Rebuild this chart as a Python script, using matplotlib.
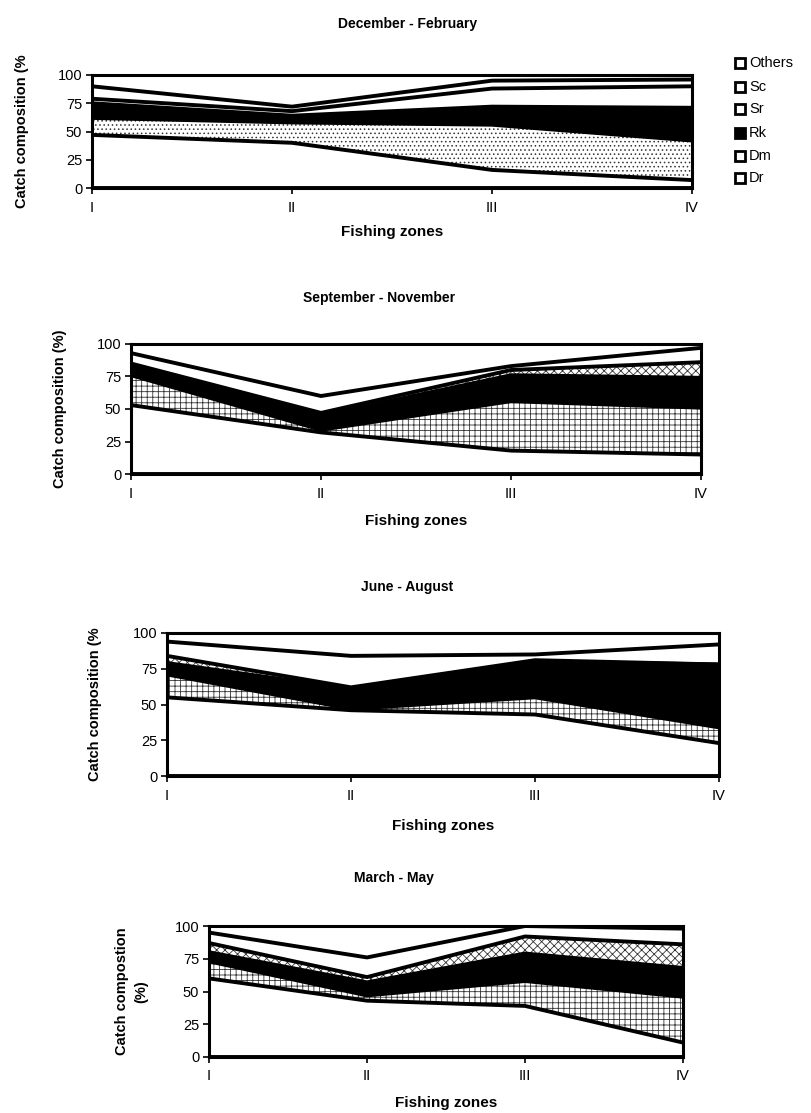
import numpy as np
import matplotlib
matplotlib.use("Agg")
import matplotlib.pyplot as plt
from matplotlib.patches import Rectangle

plt.rcParams['font.family'] = ['Liberation Sans', 'DejaVu Sans']
plt.rcParams['hatch.linewidth'] = 0.6
plt.rcParams['hatch.color'] = '0.2'

### DATA (catch composition, %)
zones = ['I', 'II', 'III', 'IV']
species = ['Dr', 'Dm', 'Rk', 'Sr', 'Sc', 'Others']

# rows: Dr, Dm, Rk, Sr, Sc, Others
dec_feb = [[47, 40, 16, 7],
           [15, 18, 40, 35],
           [13, 6, 16, 29],
           [4, 4, 16, 19],
           [11, 4, 7, 6],
           [10, 28, 5, 4]]
sep_nov = [[53, 32, 18, 15],
           [23, 2, 38, 36],
           [8, 11, 20, 23],
           [1, 2, 4, 12],
           [8, 13, 3, 11],
           [7, 40, 17, 3]]
jun_aug = [[55, 46, 43, 23],
           [16, 1, 12, 11],
           [8, 14, 25, 44],
           [5, 1, 1, 0],
           [10, 22, 4, 14],
           [6, 16, 15, 8]]
mar_may = [[60, 43, 39, 11],
           [13, 4, 19, 35],
           [7, 10, 21, 22],
           [7, 4, 13, 18],
           [8, 15, 8, 12],
           [5, 24, 0, 2]]

titles = ['December - February', 'September - November', 'June - August', 'March - May']
ylabels = ['Catch composition (%', 'Catch composition (%)', 'Catch composition (%', 'Catch compostion\n(%)']
### END DATA

W, H = 812, 1113

def fbox(l, t, r, b):
    return [l / W, 1 - b / H, (r - l) / W, (b - t) / H]

# pixel layout of each panel: axes box, title pos, ylabel x, xlabel y
layout = [
    dict(ax=(92, 75, 692, 188), title=(408, 24), ylab=22, xlab=232),
    dict(ax=(131, 344, 701, 474), title=(379, 298), ylab=60, xlab=521),
    dict(ax=(167, 633, 719, 776), title=(407, 587), ylab=95, xlab=826),
    dict(ax=(209, 926, 683, 1057), title=(394, 878), ylab=132, xlab=1103),
]

fill_colors = ['white', 'white', 'black', 'white', 'white', 'white']
hatches = [None, '+++', None, 'xxxx', None, None]

fig = plt.figure(figsize=(W / 100, H / 100), dpi=100)

for i, data in enumerate([dec_feb, sep_nov, jun_aug, mar_may]):
    lay = layout[i]
    ax = fig.add_axes(fbox(*lay['ax']))
    x = np.arange(len(zones))
    vals = np.array(data, dtype=float)
    tops = np.cumsum(vals, axis=0)
    bottom = np.zeros(len(zones))
    for k in range(len(species)):
        h = hatches[k]
        if i == 0:
            # winter panel: Dm is stippled, Sr is plain
            h = {1: '....', 3: None}.get(k, h)
        ax.fill_between(x, bottom, tops[k], facecolor=fill_colors[k],
                        hatch=h, linewidth=0)
        ax.plot(x, tops[k], color='black', lw=2.8, solid_joinstyle='miter')
        bottom = tops[k]
    ax.plot(x, np.zeros(len(zones)), color='black', lw=2.8)

    ax.set_xlim(0, 3)
    ax.set_ylim(0, 100)
    ax.set_xticks(x)
    ax.set_xticklabels(zones, fontsize=10)
    ax.set_yticks([0, 25, 50, 75, 100])
    ax.tick_params(direction='out', length=4, width=1.2, labelsize=10.5, pad=3)
    ax.tick_params(axis='x', pad=5)
    for s in ax.spines.values():
        s.set_linewidth(2.2)

    tx, ty = lay['title']
    fig.text(tx / W, 1 - ty / H, titles[i], ha='center', va='center',
             fontsize=10, fontweight='bold')
    l, t, r, b = lay['ax']
    fig.text(((l + r) / 2) / W, 1 - lay['xlab'] / H, 'Fishing zones',
             ha='center', va='center', fontsize=11, fontweight='bold')
    fig.text(lay['ylab'] / W, 1 - ((t + b) / 2) / H, ylabels[i],
             ha='center', va='center', rotation=90, fontsize=10.5,
             fontweight='bold', linespacing=1.5)

# legend, top to bottom (reverse stacking order)
leg_y = [63, 87, 109, 133, 156, 178]
for j, name in enumerate(species[::-1]):
    yc = leg_y[j]
    fc = 'black' if name == 'Rk' else 'white'
    fig.add_artist(Rectangle((735 / W, 1 - (yc + 5) / H), 10 / W, 10 / H,
                             transform=fig.transFigure, facecolor=fc,
                             edgecolor='black', lw=2))
    fig.text(749 / W, 1 - yc / H, name, ha='left', va='center', fontsize=10.5)

fig.savefig('out.png', dpi=100)
